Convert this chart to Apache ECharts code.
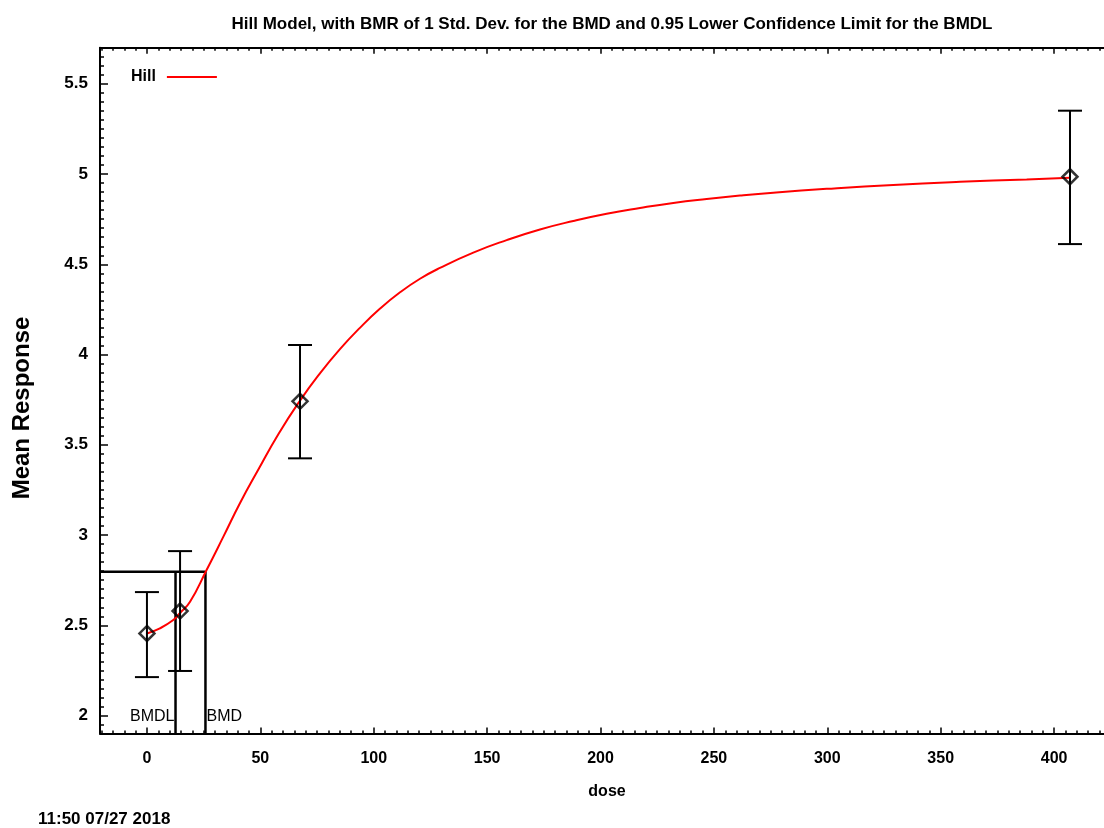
<!DOCTYPE html>
<html>
<head>
<meta charset="utf-8">
<script src="https://cdn.jsdelivr.net/npm/echarts@6/dist/echarts.min.js"></script>
<style>html,body{margin:0;padding:0;background:#fff;}#c{width:1104px;height:828px;}</style>
</head>
<body>
<div id="c"></div>
<script>
// ---- data ----
const doses = [0, 14.6, 67.5, 407];
const means = [2.455, 2.579, 3.741, 4.985];
const lowerBars = [2.213, 2.247, 3.425, 4.612];
const upperBars = [2.684, 2.911, 4.053, 5.351];

const curveDose = [0, 5.7, 11.6, 14.6, 19, 26.3, 33.7, 41, 49, 58, 67.5, 76.3, 85.1, 93.9, 102.8, 111.6, 120.4, 129.2, 143.9, 158.6, 173.3, 188, 202.7, 217.4, 232.1, 246.8, 261.5, 276.2, 299.7, 329.1, 358.5, 387.9, 407];
const curveResp = [2.455, 2.483, 2.529, 2.568, 2.63, 2.806, 2.991, 3.176, 3.36, 3.56, 3.745, 3.896, 4.03, 4.148, 4.255, 4.345, 4.42, 4.48, 4.565, 4.634, 4.693, 4.74, 4.78, 4.812, 4.84, 4.862, 4.881, 4.897, 4.918, 4.94, 4.957, 4.97, 4.98];

const bmdl = 12.6;
const bmd = 25.8;
const bmrResponse = 2.797;

const xTickLabels = [0, 50, 100, 150, 200, 250, 300, 350, 400];
const yTickLabels = [2, 2.5, 3, 3.5, 4, 4.5, 5, 5.5];

const titleText = 'Hill Model, with BMR of 1 Std. Dev. for the BMD and 0.95 Lower Confidence Limit for the BMDL';
const timestamp = '11:50 07/27 2018';

// ---- layout ----
const X_MIN = -20.7, X_MAX = 422, Y_MIN = 1.9, Y_MAX = 5.7;
const xMinor = []; for (let v = -20; v <= 420; v += 5) xMinor.push(v);
const yMinor = []; for (let i = 0; i <= 76; i++) yMinor.push(+(1.9 + i * 0.05).toFixed(2));

const FONT = 'Liberation Sans, Arial, sans-serif';
const chart = echarts.init(document.getElementById('c'), null, {renderer: 'canvas'});

function xAxisDef(pos, ticks, len, showLine, showLabel) {
  return {
    type: 'value', position: pos, min: X_MIN, max: X_MAX, gridIndex: 0,
    axisLine: {show: showLine, onZero: false, lineStyle: {color: '#000', width: 2}},
    axisTick: {show: true, inside: true, length: len, customValues: ticks, lineStyle: {color: '#000', width: 1.5}},
    axisLabel: showLabel ? {show: true, customValues: xTickLabels, color: '#000', fontFamily: FONT, fontWeight: 'bold', fontSize: 16, margin: 17} : {show: false},
    splitLine: {show: false}
  };
}
function yAxisDef(pos, ticks, len, showLine, showLabel) {
  return {
    type: 'value', position: pos, min: Y_MIN, max: Y_MAX, gridIndex: 0,
    axisLine: {show: showLine, onZero: false, lineStyle: {color: '#000', width: 2}},
    axisTick: {show: true, inside: true, length: len, customValues: ticks, lineStyle: {color: '#000', width: 1.5}},
    axisLabel: showLabel ? {show: true, customValues: yTickLabels, color: '#000', fontFamily: FONT, fontWeight: 'bold', fontSize: 17, margin: 12} : {show: false},
    splitLine: {show: false}
  };
}

const option = {
  animation: false,
  backgroundColor: '#fff',
  title: {
    text: titleText, left: 607, top: 11, textAlign: 'center',
    textStyle: {fontFamily: FONT, fontWeight: 'bold', fontSize: 17, color: '#000'}
  },
  legend: {
    left: 126, top: 64, align: 'right', itemWidth: 50, itemHeight: 14, itemGap: 0,
    textStyle: {fontFamily: FONT, fontWeight: 'bold', fontSize: 16, color: '#000', padding: [0, 6, 0, 0]},
    data: [{name: 'Hill', icon: 'path://M0,0 L50,0 L50,2 L0,2 Z'}]
  },
  grid: {left: 100, top: 47.7, right: 0, bottom: 94.4, containLabel: false},
  xAxis: [
    xAxisDef('bottom', xTickLabels, 6, true, true),
    xAxisDef('bottom', xMinor, 3, false, false),
    xAxisDef('top', xTickLabels, 6, true, false),
    xAxisDef('top', xMinor, 3, false, false)
  ],
  yAxis: [
    yAxisDef('left', yTickLabels, 8, true, true),
    yAxisDef('left', yMinor, 4, false, false)
  ],
  graphic: [
    {type: 'text', left: 38, top: 811, style: {text: timestamp, fontFamily: FONT, fontWeight: 'bold', fontSize: 17, fill: '#000'}},
    {type: 'text', x: 607, y: 792, style: {text: 'dose', fontFamily: FONT, fontWeight: 'bold', fontSize: 16, fill: '#000', align: 'center', verticalAlign: 'middle'}},
    {type: 'text', x: 22, y: 408, rotation: Math.PI / 2, style: {text: 'Mean Response', fontFamily: FONT, fontWeight: 'bold', fontSize: 24, fill: '#000', align: 'center', verticalAlign: 'middle'}}
  ],
  series: [
    {
      name: 'BMD lines', type: 'custom', xAxisIndex: 0, yAxisIndex: 0, silent: true, z: 3,
      data: [[bmdl, bmd, bmrResponse]],
      renderItem: function (params, api) {
        const pl = api.coord([bmdl, bmrResponse]);
        const pd = api.coord([bmd, bmrResponse]);
        const p0 = api.coord([X_MIN, bmrResponse]);
        const yb = api.coord([bmdl, Y_MIN])[1];
        const ylab = api.coord([0, 2])[1];
        const st = {stroke: '#000', lineWidth: 2.5};
        return {type: 'group', children: [
          {type: 'line', shape: {x1: p0[0], y1: pd[1], x2: pd[0], y2: pd[1]}, style: st},
          {type: 'line', shape: {x1: pl[0], y1: pl[1], x2: pl[0], y2: yb}, style: st},
          {type: 'line', shape: {x1: pd[0], y1: pd[1], x2: pd[0], y2: yb}, style: st},
          {type: 'text', x: pl[0] - 1, y: ylab + 1, style: {text: 'BMDL', fontFamily: FONT, fontSize: 16, fill: '#000', align: 'right', verticalAlign: 'middle'}},
          {type: 'text', x: pd[0] + 1, y: ylab + 1, style: {text: 'BMD', fontFamily: FONT, fontSize: 16, fill: '#000', align: 'left', verticalAlign: 'middle'}}
        ]};
      }
    },
    {
      name: 'Hill', type: 'line', xAxisIndex: 0, yAxisIndex: 0, z: 4,
      data: curveDose.map((d, i) => [d, curveResp[i]]),
      smooth: 0.5, showSymbol: false, symbol: 'none',
      lineStyle: {color: '#ff0000', width: 2}, itemStyle: {color: '#ff0000'}
    },
    {
      name: 'Error bars', type: 'custom', xAxisIndex: 0, yAxisIndex: 0, silent: true, z: 5,
      data: doses.map((d, i) => [d, lowerBars[i], upperBars[i]]),
      renderItem: function (params, api) {
        const lo = api.coord([api.value(0), api.value(1)]);
        const hi = api.coord([api.value(0), api.value(2)]);
        const w = 12;
        const st = {stroke: '#000', lineWidth: 2};
        return {type: 'group', children: [
          {type: 'line', shape: {x1: lo[0], y1: lo[1], x2: hi[0], y2: hi[1]}, style: st},
          {type: 'line', shape: {x1: lo[0] - w, y1: lo[1], x2: lo[0] + w, y2: lo[1]}, style: st},
          {type: 'line', shape: {x1: hi[0] - w, y1: hi[1], x2: hi[0] + w, y2: hi[1]}, style: st}
        ]};
      }
    },
    {
      name: 'Means', type: 'scatter', xAxisIndex: 0, yAxisIndex: 0, z: 6,
      data: doses.map((d, i) => [d, means[i]]),
      symbol: 'diamond', symbolSize: [15, 15],
      itemStyle: {color: 'rgba(0,0,0,0)', borderColor: '#000', borderWidth: 2.5}
    }
  ]
};
chart.setOption(option);
</script>
</body>
</html>
